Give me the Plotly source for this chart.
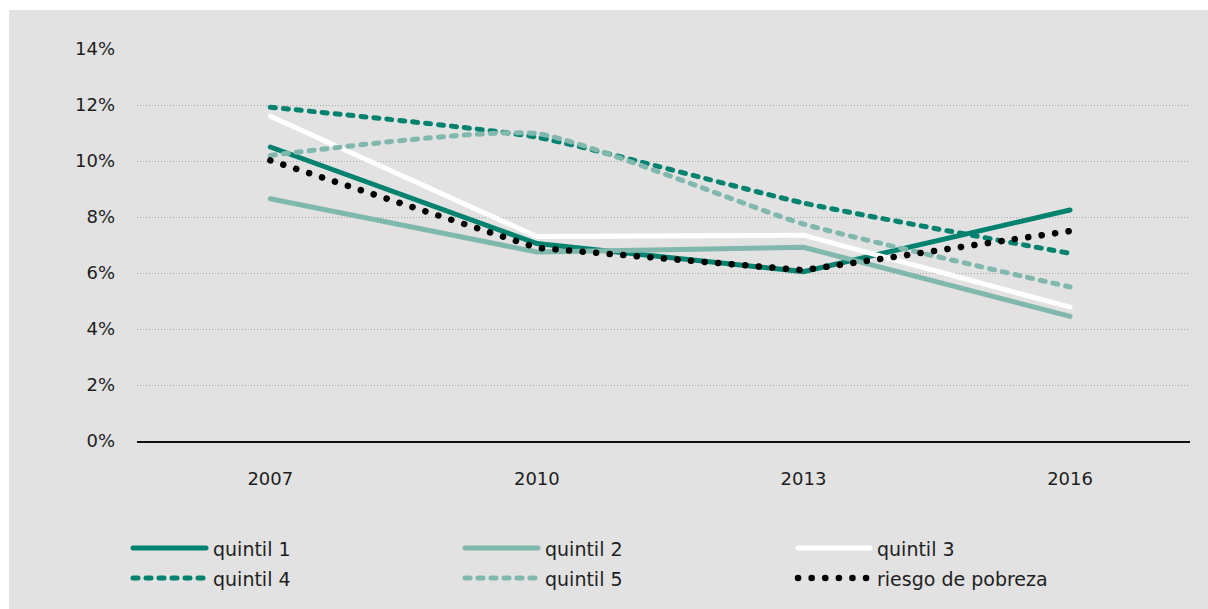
import plotly.graph_objects as go

# Survey years and shares (%) by income quintil
years = ["2007", "2010", "2013", "2016"]
quintil_1 = [10.5, 7.05, 6.05, 8.25]
quintil_2 = [8.65, 6.75, 6.92, 4.45]
quintil_3 = [11.6, 7.3, 7.35, 4.78]
quintil_4 = [11.92, 10.85, 8.5, 6.7]
quintil_5 = [10.2, 10.98, 7.75, 5.5]
riesgo_pobreza = [10.02, 6.9, 6.1, 7.5]

y_ticks = [0, 2, 4, 6, 8, 10, 12, 14]

DARK = "#00826f"
LIGHT = "#80b8ae"
FONT = "DejaVu Sans"
TXT = "#1e1e1e"

W, H = 1208, 609
ML, MR, MT, MB = 137, 18, 48, 168
PW, PH = W - ML - MR, H - MT - MB


def px(x):
    return (x - ML) / PW


def py(y):
    return (H - MB - y) / PH


series = [
    ("quintil 1", quintil_1, DARK, 5, "solid", "linear"),
    ("quintil 2", quintil_2, LIGHT, 5, "solid", "linear"),
    ("quintil 3", quintil_3, "#ffffff", 5, "solid", "linear"),
    ("quintil 4", quintil_4, DARK, 5, "5px,8px", "spline"),
    ("quintil 5", quintil_5, LIGHT, 5, "5px,8px", "spline"),
    ("riesgo de pobreza", riesgo_pobreza, "#000000", 6.5, "0.1px,13.5px", "linear"),
]

fig = go.Figure()
for name, vals, color, width, dash, shape in series:
    fig.add_trace(go.Scatter(
        x=years, y=vals, name=name, mode="lines",
        line=dict(color=color, width=width, dash=dash, shape=shape, smoothing=0.5),
        showlegend=False, hoverinfo="skip",
    ))

# background panel
shapes = [dict(type="rect", xref="paper", yref="paper", layer="below",
               x0=px(9), x1=px(W), y0=py(10), y1=py(H),
               fillcolor="#e2e2e2", line=dict(width=0))]
annotations = []

# legend: three columns, two rows
cols = [(130, 209), (462, 541), (795, 873)]
rows = [548, 578]
for i, (name, vals, color, width, dash, shape) in enumerate(series):
    x0, x1 = cols[i % 3]
    y = rows[i // 3]
    shapes.append(dict(type="line", xref="paper", yref="paper",
                       x0=px(x0 + 3), x1=px(x1 - 3), y0=py(y), y1=py(y),
                       line=dict(color=color, width=width, dash=dash)))
    annotations.append(dict(xref="paper", yref="paper", x=px(x1 + 2), y=py(y + 1),
                            text=name, showarrow=False, xanchor="left",
                            yanchor="middle", font=dict(family=FONT, size=19, color=TXT)))

fig.update_layout(
    width=W, height=H,
    margin=dict(l=ML, r=MR, t=MT, b=MB),
    paper_bgcolor="#ffffff",
    plot_bgcolor="rgba(0,0,0,0)",
    font=dict(family=FONT, size=18, color=TXT),
    shapes=shapes,
    annotations=annotations,
    showlegend=False,
)
fig.update_xaxes(
    type="category", categoryarray=years, range=[-0.5, 3.45],
    showgrid=False, zeroline=False, showline=True, linecolor="#111111", linewidth=2,
    ticks="", ticklabelstandoff=20, tickfont=dict(family=FONT, size=18, color=TXT),
)
fig.update_yaxes(
    range=[0, PH / 28], tickvals=y_ticks, ticktext=[f"{v}%" for v in y_ticks],
    showgrid=True, gridcolor="#a9a9a9", gridwidth=1, griddash="1px,2px",
    zeroline=False, showline=False, ticks="", ticklabelstandoff=21,
    tickfont=dict(family=FONT, size=18, color=TXT),
)

round_caps = """
document.querySelectorAll('.scatterlayer path.js-line, .shapelayer path').forEach(function(p){
  p.style.strokeLinecap = 'round';
});
"""

fig.write_html("out.html", post_script=round_caps)
